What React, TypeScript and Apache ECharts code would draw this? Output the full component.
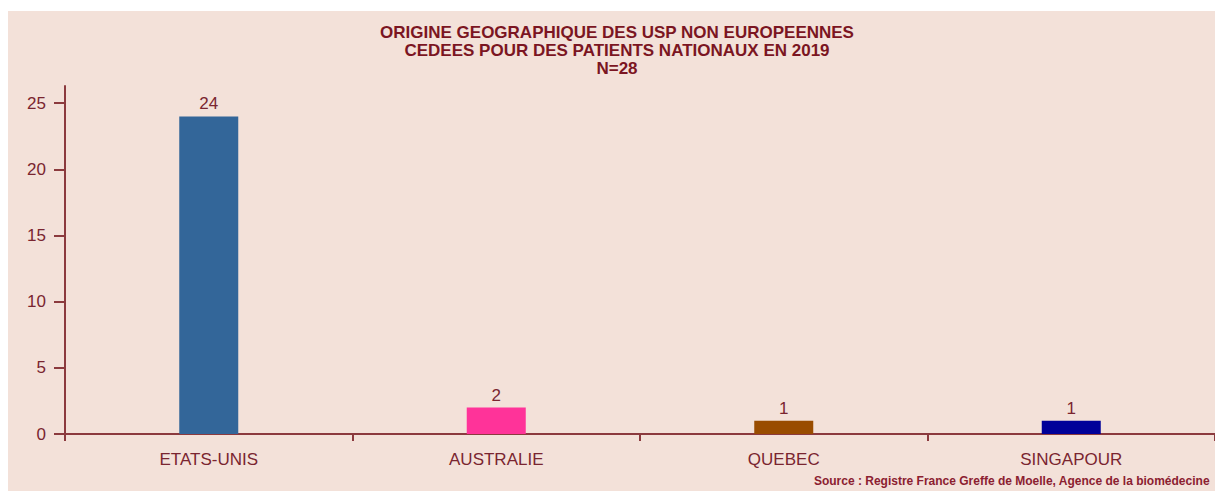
import React, { useEffect, useRef } from "react";
import * as echarts from "echarts";

const categories = ["ETATS-UNIS", "AUSTRALIE", "QUEBEC", "SINGAPOUR"];
const values = [24, 2, 1, 1];
const barColors = ["#336699", "#ff3399", "#994c00", "#000099"];
const yTicks = [0, 5, 10, 15, 20, 25];
const titleLines = [
  "ORIGINE GEOGRAPHIQUE DES USP NON EUROPEENNES",
  "CEDEES POUR DES PATIENTS NATIONAUX EN 2019",
  "N=28",
];
const sourceText = "Source : Registre France Greffe de Moelle, Agence de la biomédecine";

const BG = "#f3e1d9";
const AXIS = "#8b3a3e";
const LABEL = "#7a2530";
const TITLE = "#7b1522";
const FONT = "Arial, 'Liberation Sans', Helvetica, sans-serif";

export default function App() {
  const ref = useRef<HTMLDivElement>(null);
  useEffect(() => {
    if (!ref.current) return;
    const chart = echarts.init(ref.current, null, { renderer: "svg" });
    chart.setOption({
      animation: false,
      backgroundColor: BG,
      title: {
        text: titleLines.join("\n"),
        left: 609,
        top: 12,
        padding: 0,
        textAlign: "center",
        textStyle: {
          fontFamily: FONT,
          fontSize: 17,
          fontWeight: "bold",
          color: TITLE,
          lineHeight: 18,
          align: "center",
        },
      },
      grid: { left: 57, right: 0, top: 75, bottom: 57, containLabel: false },
      xAxis: {
        type: "category",
        data: categories,
        axisLine: { show: true, lineStyle: { color: AXIS, width: 2 } },
        axisTick: { show: true, length: 7, lineStyle: { color: AXIS, width: 2 } },
        axisLabel: { margin: 17, fontSize: 17, color: LABEL, fontFamily: FONT },
        splitLine: { show: false },
      },
      yAxis: {
        type: "value",
        min: 0,
        max: 26.3,
        axisLine: { show: true, lineStyle: { color: AXIS, width: 2 } },
        axisTick: { show: true, length: 11, lineStyle: { color: AXIS, width: 2 }, customValues: yTicks },
        axisLabel: { margin: 19, fontSize: 17, color: LABEL, fontFamily: FONT, customValues: yTicks },
        splitLine: { show: false },
      },
      series: [
        {
          type: "bar",
          barWidth: 59,
          data: values.map((v, i) => ({ value: v, itemStyle: { color: barColors[i] } })),
          label: {
            show: true,
            position: "top",
            distance: 4,
            fontSize: 17,
            color: LABEL,
            fontFamily: FONT,
          },
        },
      ],
      graphic: [
        {
          type: "text",
          right: 5,
          top: 464,
          style: {
            text: sourceText,
            fontSize: 12,
            fontWeight: "bold",
            fill: "#8b2030",
            fontFamily: FONT,
          },
        },
      ],
    });
    return () => chart.dispose();
  }, []);
  return (
    <div
      ref={ref}
      style={{ position: "absolute", left: 8, top: 11, width: 1207, height: 480, background: BG }}
    />
  );
}
